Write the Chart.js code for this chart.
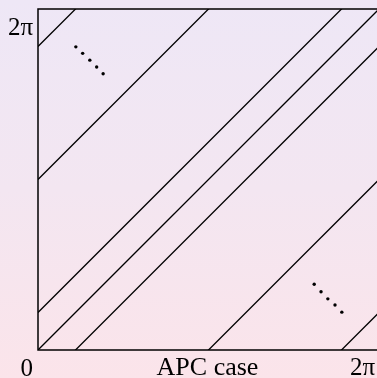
<!DOCTYPE html>
<html>
<head>
<meta charset="utf-8">
<script src="https://cdn.jsdelivr.net/npm/chart.js@4/dist/chart.umd.min.js"></script>
<style>
  html, body { margin: 0; padding: 0; width: 377px; height: 378px; overflow: hidden; }
  body { background: linear-gradient(to bottom, #eee7f6 0%, #f3e6f1 50%, #fbe4ea 100%); }
  #c { position: absolute; left: 0; top: 0; }
</style>
</head>
<body>
<canvas id="c" width="400" height="378"></canvas>
<script>
// Data (in units of pi)
const axisMin = 0;
const axisMax = 2;                       // 2π
const lineOffsets = [1.78, 1.0, 0.22, 0, -0.22, -1.0, -1.78]; // y = x + offset
const dotsTopLeftX = [0.222, 0.262, 0.304, 0.344, 0.382];
const dotsTopLeftY = [1.778, 1.740, 1.700, 1.660, 1.620];
const dotsBottomRightX = [1.620, 1.660, 1.700, 1.742, 1.782];
const dotsBottomRightY = [0.386, 0.342, 0.300, 0.264, 0.222];
const xTickLabels = ['0', '2\u03c0'];
const yTickLabels = ['2\u03c0'];
const xTitle = 'APC case';

const PI = Math.PI;
const datasets = lineOffsets.map(c => ({
  type: 'line',
  data: [{x: axisMin * PI, y: (axisMin + c) * PI}, {x: axisMax * PI, y: (axisMax + c) * PI}],
  borderColor: '#000',
  borderWidth: 1.3,
  pointRadius: 0,
  showLine: true,
  fill: false,
  clip: 0
}));
datasets.push({
  type: 'scatter',
  data: dotsTopLeftX.map((x, i) => ({x: x * PI, y: dotsTopLeftY[i] * PI}))
    .concat(dotsBottomRightX.map((x, i) => ({x: x * PI, y: dotsBottomRightY[i] * PI}))),
  backgroundColor: '#000',
  borderColor: '#000',
  pointRadius: 1.7,
  borderWidth: 0
});

const framePlugin = {
  id: 'frame',
  afterDatasetsDraw(chart) {
    const {ctx, chartArea: a, scales: {x, y}} = chart;
    ctx.save();
    ctx.strokeStyle = '#000';
    ctx.lineWidth = 1.5;
    ctx.strokeRect(a.left, a.top, a.right - a.left, a.bottom - a.top);
    ctx.fillStyle = '#000';
    ctx.textBaseline = 'alphabetic';
    ctx.font = '25px "Liberation Serif", "Times New Roman", serif';
    // y label
    ctx.textAlign = 'right';
    ctx.fillText(yTickLabels[0], a.left - 5, y.getPixelForValue(axisMax * PI) + 26);
    // x labels
    ctx.fillText(xTickLabels[0], x.getPixelForValue(axisMin * PI) - 5, a.bottom + 26);
    ctx.fillText(xTickLabels[1], x.getPixelForValue(axisMax * PI) - 4, a.bottom + 25);
    ctx.textAlign = 'center';
    ctx.font = '26px "Liberation Serif", "Times New Roman", serif';
    ctx.fillText(xTitle, (a.left + a.right) / 2 - 1, a.bottom + 25);
    ctx.restore();
  }
};

new Chart(document.getElementById('c'), {
  type: 'scatter',
  data: { datasets },
  options: {
    responsive: false,
    animation: false,
    layout: { padding: { left: 38, top: 9, right: 21, bottom: 28 } },
    plugins: { legend: { display: false }, tooltip: { enabled: false } },
    scales: {
      x: { type: 'linear', min: axisMin * PI, max: axisMax * PI, display: false },
      y: { type: 'linear', min: axisMin * PI, max: axisMax * PI, display: false }
    }
  },
  plugins: [framePlugin]
});
</script>
</body>
</html>
